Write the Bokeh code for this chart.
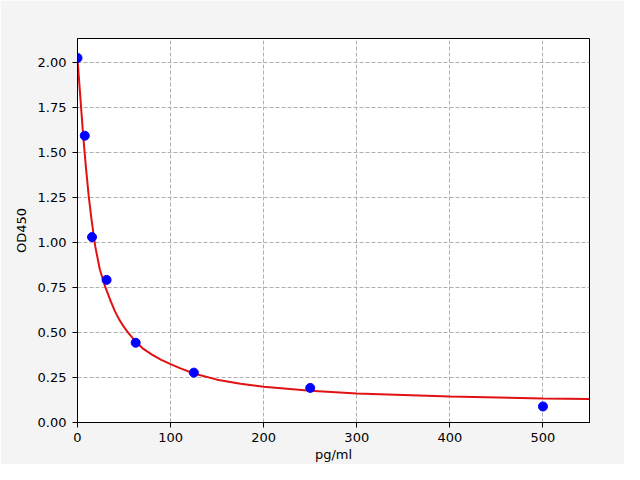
from bokeh.plotting import figure
from bokeh.models import Range1d, FixedTicker, NumeralTickFormatter
from bokeh.embed import file_html
from bokeh.resources import INLINE

# standards (pg/ml) and measured OD450
conc = [0, 7.8, 15.6, 31.25, 62.5, 125, 250, 500]
od = [2.025, 1.593, 1.03, 0.792, 0.443, 0.277, 0.192, 0.089]

# fitted curve
fit_x = [0, 3, 6, 9, 12, 15, 19, 24, 30, 36, 40, 45, 50, 55, 60, 65, 70,
         80, 90, 100, 110, 125, 150, 175, 200, 250, 300, 400, 500, 550]
fit_y = [2.02, 1.81, 1.60, 1.42, 1.26, 1.13, 0.98, 0.85, 0.75, 0.67, 0.62,
         0.57, 0.53, 0.495, 0.465, 0.437, 0.412, 0.377, 0.348, 0.324, 0.302,
         0.272, 0.238, 0.215, 0.198, 0.177, 0.161, 0.144, 0.134, 0.130]

x_ticks = [0, 100, 200, 300, 400, 500]
y_ticks = [0, 0.25, 0.5, 0.75, 1.0, 1.25, 1.5, 1.75, 2.0]

FONT = "DejaVu Sans"
BG = "#f4f4f4"

p = figure(
    width=624, height=464,
    x_range=Range1d(0, 550), y_range=Range1d(0, 2.133),
    toolbar_location=None, output_backend="svg",
)
p.min_border_left = 77
p.min_border_right = 35
p.min_border_top = 38
p.min_border_bottom = 42
p.border_fill_color = BG
p.background_fill_color = "white"
p.outline_line_color = "black"
p.outline_line_width = 1

# grid
for g in (p.xgrid, p.ygrid):
    g.grid_line_color = "#b0b0b0"
    g.grid_line_dash = "4 2"
    g.grid_line_width = 1

p.xaxis.ticker = FixedTicker(ticks=x_ticks)
p.yaxis.ticker = FixedTicker(ticks=y_ticks)
p.xgrid.ticker = p.xaxis.ticker
p.ygrid.ticker = p.yaxis.ticker
p.yaxis.formatter = NumeralTickFormatter(format="0.00")

p.xaxis.axis_label = "pg/ml"
p.yaxis.axis_label = "OD450"
for ax in (p.xaxis, p.yaxis):
    ax.axis_line_color = "black"
    ax.major_tick_line_color = "black"
    ax.major_tick_out = 5
    ax.major_tick_in = 0
    ax.minor_tick_line_color = None
    ax.major_label_standoff = 6
    ax.major_label_text_font = FONT
    ax.major_label_text_font_size = "13px"
    ax.major_label_text_color = "black"
    ax.axis_label_text_font = FONT
    ax.axis_label_text_font_size = "13px"
    ax.axis_label_text_font_style = "normal"
    ax.axis_label_text_color = "black"
p.xaxis.major_label_standoff = 5
p.xaxis.axis_label_standoff = 2
p.yaxis.axis_label_standoff = 6

# curve + points
p.line(fit_x, fit_y, line_color="#e01212", line_width=2)
p.scatter(conc, od, size=9, fill_color="#0000ff", line_color="#0000ff")

open("out.html", "w").write(file_html(p, INLINE))
